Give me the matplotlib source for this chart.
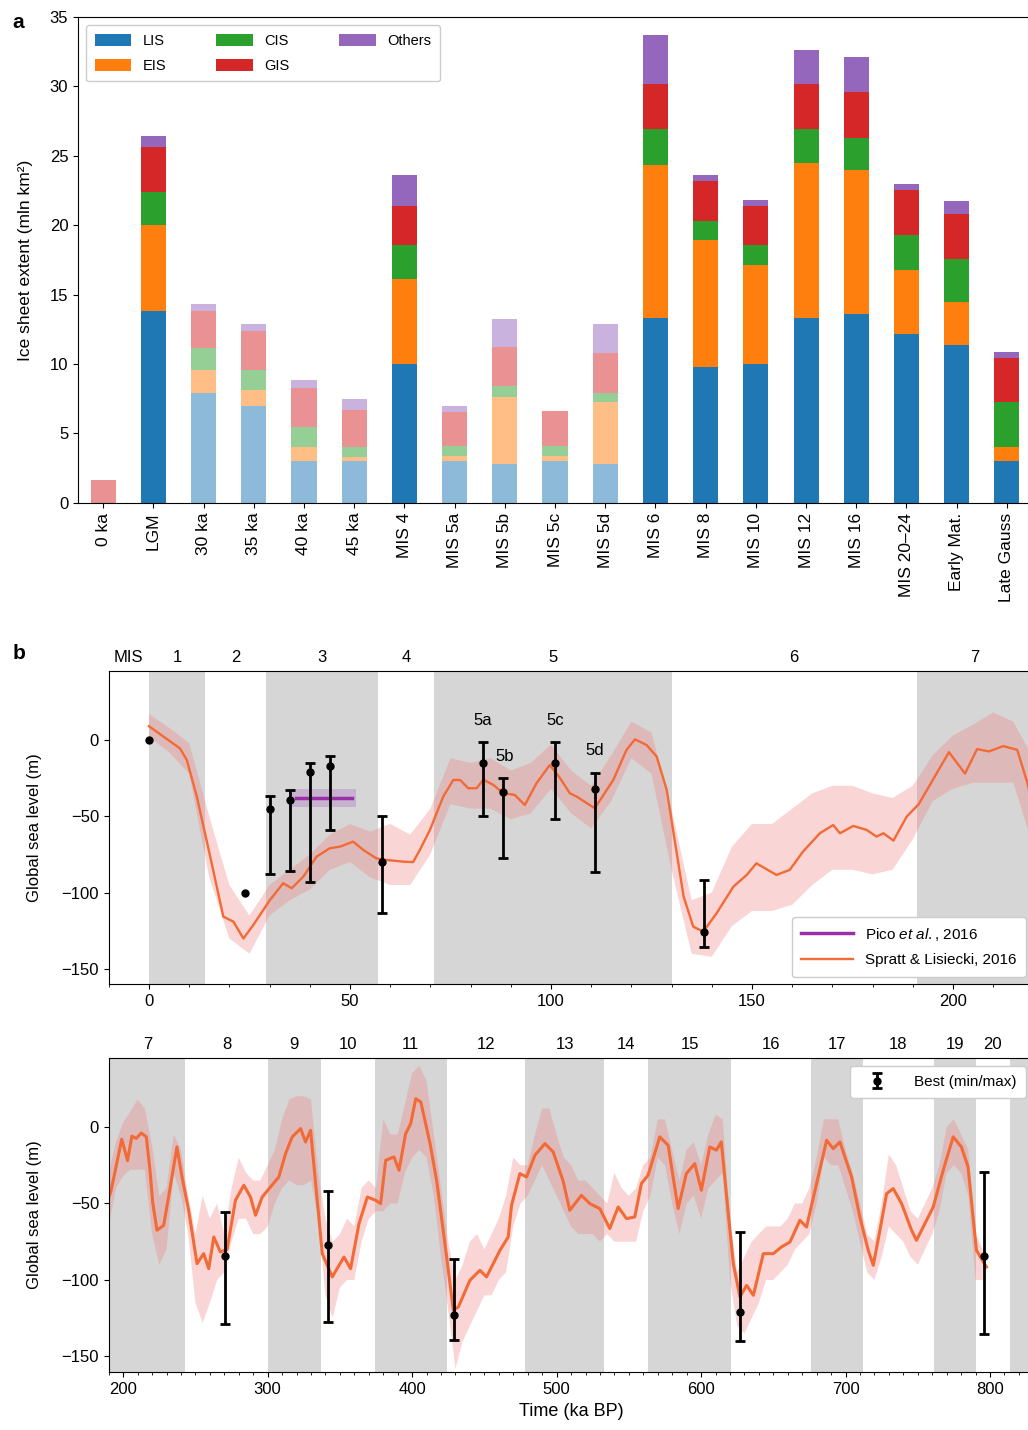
import matplotlib
matplotlib.use("Agg")
import matplotlib.pyplot as plt
import numpy as np

plt.rcParams['font.family'] = ['Liberation Sans', 'DejaVu Sans']
plt.rcParams['font.size'] = 12
plt.rcParams['mathtext.fontset'] = 'custom'
plt.rcParams['mathtext.rm'] = 'Liberation Sans'
plt.rcParams['mathtext.it'] = 'Liberation Sans:italic'

# ---------------- panel a: ice sheet extent (mln km2) ----------------
periods = ['0 ka', 'LGM', '30 ka', '35 ka', '40 ka', '45 ka', 'MIS 4', 'MIS 5a',
           'MIS 5b', 'MIS 5c', 'MIS 5d', 'MIS 6', 'MIS 8', 'MIS 10', 'MIS 12',
           'MIS 16', 'MIS 20\u201324', 'Early Mat.', 'Late Gauss']
lis = [0.0, 13.8, 7.9, 7.0, 3.0, 3.0, 10.0, 3.0, 2.8, 3.0, 2.8,
       13.3, 9.8, 10.0, 13.3, 13.6, 12.2, 11.4, 3.0]
eis = [0.0, 6.2, 1.65, 1.1, 1.05, 0.3, 6.1, 0.4, 4.8, 0.4, 4.45,
       11.0, 9.1, 7.1, 11.2, 10.4, 4.6, 3.1, 1.05]
cis = [0.0, 2.4, 1.6, 1.5, 1.45, 0.7, 2.5, 0.7, 0.8, 0.7, 0.65,
       2.6, 1.4, 1.5, 2.4, 2.3, 2.5, 3.1, 3.2]
gis = [1.65, 3.2, 2.7, 2.8, 2.75, 2.7, 2.8, 2.45, 2.8, 2.55, 2.9,
       3.3, 2.9, 2.8, 3.3, 3.3, 3.2, 3.2, 3.2]
others = [0.0, 0.8, 0.45, 0.5, 0.6, 0.75, 2.2, 0.45, 2.05, 0.0, 2.05,
          3.5, 0.4, 0.4, 2.4, 2.5, 0.5, 0.95, 0.45]
faded = [True, False, True, True, True, True, False, True, True, True, True,
         False, False, False, False, False, False, False, False]

# ---------------- panel b: global sea level ----------------
# Spratt & Lisiecki (2016) stack
sl_time = [0, 7.7, 9.4, 11.9, 15.2, 18.5, 21.0, 23.5, 26.0, 30.1, 33.4, 35.5, 38.4,
           41.7, 45.0, 47.5, 50.8, 53.3, 56.6, 59.1, 63.3, 65.7, 67.4, 69.9, 73.2,
           75.7, 77.4, 79.4, 81.5, 83.2, 85.7, 88.1, 91.0, 93.5, 96.4, 99.7, 102.0,
           104.7, 106.4, 110.9, 115.5, 118.8, 120.9, 123.8, 126.3, 128.8, 130.9,
           133.0, 135.4, 137.9, 141.2, 145.4, 148.7, 151.1, 153.2, 156.1, 159.4,
           162.7, 166.9, 170.2, 171.9, 175.2, 178.5, 181.0, 182.7, 185.2, 188.5,
           191.5, 194.8, 199.0, 201.0, 203.0, 206.0, 209.0, 212.5, 216.0, 218.5,
           220.5, 223.4, 228.0, 232.6, 237.2, 240.7, 245.3, 251.1, 255.7, 259.2,
           262.7, 267.3, 271.9, 277.7, 283.5, 288.1, 291.6, 296.2, 302.0, 307.7,
           312.4, 317.0, 322.8, 326.2, 329.7, 333.2, 337.8, 344.7, 352.8, 357.4,
           363.2, 369.0, 374.7, 378.2, 381.7, 387.4, 390.9, 395.5, 399.0, 402.5,
           406.0, 412.4, 417.0, 423.9, 428.5, 432.0, 440.0, 446.9, 451.5, 460.8,
           466.5, 468.8, 474.6, 479.2, 485.0, 491.9, 497.6, 504.5, 509.1, 517.2,
           523.0, 529.9, 536.8, 542.6, 548.4, 554.1, 558.7, 563.3, 571.4, 577.2,
           584.1, 589.8, 595.6, 600.2, 606.0, 610.6, 614.0, 617.7, 622.3, 626.9,
           631.5, 636.2, 643.1, 650.0, 655.7, 661.5, 668.4, 673.0, 680.0, 686.9,
           691.5, 696.1, 704.2, 709.9, 715.7, 719.2, 723.8, 728.4, 733.0, 738.8,
           745.7, 749.1, 753.7, 760.7, 767.6, 774.5, 780.2, 784.8, 790.6, 797.5]
sl_value = [9, -5.5, -13, -37, -76, -115.7, -119, -130, -121, -104.8, -93.8, -97.1,
            -89.5, -76.4, -70.9, -69.9, -66.6, -72, -77.6, -78.6, -79.7, -80, -72,
            -58.9, -37.1, -26.2, -26.2, -31.6, -31.6, -26, -29.5, -34.9, -36, -42.6,
            -28.4, -16.4, -24, -34.9, -37.1, -44.7, -26.2, -6.5, 0.4, -3.3, -10.9,
            -32.7, -67.7, -102.6, -122.3, -125.5, -113.5, -96, -88.4, -80.8, -84,
            -88.4, -85.1, -73.1, -61.1, -55.7, -61.1, -56.3, -58.9, -63.3, -61.1,
            -65.9, -50.2, -42, -27, -8, -15, -22, -6, -7.5, -4, -6.5, -28,
            -50, -67.5, -64.3, -39.2, -13.1, -32.7, -54.5, -89.3, -82.8, -92.6,
            -71.9, -81.7, -80, -47.9, -38.1, -45.8, -57.7, -45.8, -39.2, -32.7,
            -17.4, -6.5, -1.1, -9.8, -2.2, -37, -82.8, -98, -85, -92.6,
            -63.2, -45.8, -47.9, -50.1, -21.8, -19.6, -28.3, -4.4, 2.2, 18.5,
            16.3, -10.9, -35.3, -85, -119.8, -117.6, -100.2, -93.7, -98, -80.6,
            -71.9, -51.2, -30.5, -32.7, -18.5, -10.9, -16.3, -35.3, -54.5, -44.7,
            -50.1, -53.4, -66.4, -52.3, -59.9, -58.8, -37, -31.6, -6.5, -12,
            -53.4, -30.5, -24, -41.4, -13.1, -15.2, -9.8, -45.8, -89.3, -111,
            -103.5, -110, -82.8, -82.8, -78.4, -75.2, -61, -65.4, -37, -8.7,
            -14.2, -9.8, -32.7, -58.8, -80.6, -90.4, -67.5, -43.6, -40.3, -50.1,
            -67.5, -74.1, -65.4, -52.3, -28.3, -6.5, -13.1, -26.1, -80.6, -91.5]

band_time = list(range(0, 800, 5))
band_hi = [17, 8, -2, -50, -95, -115, -95, -85, -75, -62, -55, -60, -55, -62, -45,
           -12, -15, -12, -20, -15, -3, -20, -30, -10, 12, 5, -45, -105, -100, -70,
           -55, -55, -45, -35, -30, -30, -35, -38, -30, -10, 3, 10, 18, 12, -12,
           -45, -40, -5, -15, -45, -70, -45, -60, -50, -70, -40, -20, -30, -35, -35,
           -25, -15, 5, 18, 20, 20, 18, -30, -60, -75, -70, -60, -65, -40, -35,
           -40, 5, -5, -5, 15, 35, 40, 30, -5, -40, -75, -100, -90, -75, -70,
           -80, -70, -60, -45, -20, -25, -25, -5, 12, 12, -5, -20, -25, -35, -35,
           -40, -45, -50, -30, -40, -45, -40, -25, -20, 5, 5, -15, -35, -15, -10,
           -25, -5, 8, 5, -60, -95, -85, -75, -70, -65, -65, -65, -60, -50, -50,
           -40, -20, 5, 5, 5, -15, -30, -50, -70, -75, -50, -18, -25, -40, -55,
           -60, -50, -40, -25, 0, 5, -5, -15, -70, -80]
band_lo = [2, -8, -22, -90, -130, -140, -115, -105, -98, -85, -80, -90, -95, -95, -75,
           -42, -45, -45, -52, -48, -32, -48, -58, -40, -12, -22, -85, -140, -142, -122,
           -112, -112, -108, -95, -85, -85, -88, -85, -65, -40, -32, -28, -28, -28, -70,
           -90, -80, -30, -45, -70, -115, -128, -115, -100, -95, -75, -60, -60, -70, -70,
           -65, -50, -40, -35, -38, -38, -35, -60, -110, -125, -105, -100, -100, -75, -60,
           -55, -55, -50, -50, -30, -20, -15, -20, -45, -85, -120, -158, -140, -130, -120,
           -110, -110, -100, -95, -65, -50, -45, -35, -25, -35, -45, -55, -65, -70, -70,
           -70, -75, -70, -75, -75, -75, -75, -55, -45, -20, -25, -50, -70, -50, -45,
           -60, -40, -35, -30, -100, -130, -135, -125, -115, -100, -100, -95, -90, -80, -75,
           -70, -50, -20, -25, -25, -40, -55, -75, -95, -100, -85, -65, -70, -75, -85,
           -90, -80, -70, -55, -30, -25, -30, -45, -100, -100]

# best estimates with min/max (points without a range are drawn as plain dots)
best_time = [0, 24, 30, 35, 40, 45, 58, 83, 88, 101, 111, 138,
             270.6, 342, 429.3, 627, 796]
best_value = [0, -100, -45, -39, -21, -17, -80, -15, -34, -15, -32, -125.5,
              -84.5, -77, -122.7, -121, -84.3]
best_max = [0, -100, -36.5, -32.7, -15.3, -10.5, -49.6, -1.1, -24.7, -1.1, -21.4, -92,
            -55.6, -41.8, -86.5, -68.6, -29.4]
best_min = [0, -100, -88, -85.6, -92.8, -59, -113, -49.6, -77, -52, -86.4, -135.3,
            -129, -127.5, -139.4, -140, -135]

# Pico et al. 2016
pico_time = [36.5, 50.5]
pico_value = -38
pico_min, pico_max = -44, -32

# MIS boundaries (ka); stage n spans mis_bounds[n-1]..mis_bounds[n]
mis_bounds = [0, 14, 29, 57, 71, 130, 191, 243, 300, 337, 374, 424, 478, 533,
              563, 621, 676, 712, 761, 790, 814, 866]
sub_stages = ['5a', '5b', '5c', '5d']
sub_pos = [(83, 13), (88.5, -11), (101, 13), (111, -7)]

# ---------------- figure ----------------
fig = plt.figure(figsize=(10.28, 14.3), dpi=100)

colors = ['#1f77b4', '#ff7f0e', '#2ca02c', '#d62728', '#9467bd']
names = ['LIS', 'EIS', 'CIS', 'GIS', 'Others']
series = [lis, eis, cis, gis, others]

ax = fig.add_axes([0.0759, 0.6483, 0.928, 0.3399])
x = np.arange(len(periods))
bottom = np.zeros(len(periods))
for name, vals, col in zip(names, series, colors):
    vals = np.array(vals)
    for i in range(len(periods)):
        ax.bar(x[i], vals[i], 0.5, bottom=bottom[i], color=col,
               alpha=0.5 if faded[i] else 1.0, linewidth=0)
    ax.bar([0], [0], 0.5, color=col, label=name)
    bottom += vals
ax.set_xlim(-0.5, len(periods) - 0.5)
ax.set_ylim(0, 35)
ax.set_xticks(x)
ax.set_xticklabels(periods, rotation=90, fontsize=12.5)
ax.set_yticks(range(0, 36, 5))
ax.set_ylabel('Ice sheet extent (mln km\u00b2)', fontsize=12.5, labelpad=12)
ax.legend(loc='upper left', ncol=3, fontsize=10.5, handlelength=2.5,
          handleheight=0.9, labelspacing=0.75, columnspacing=3.4,
          borderpad=0.6, borderaxespad=0.55, fancybox=True, framealpha=1)
fig.text(0.012, 0.984, 'a', fontsize=15, fontweight='bold', va='center')


def sea_panel(pos, xlim, lw):
    a = fig.add_axes(pos)
    a.set_xlim(*xlim)
    a.set_ylim(-160, 45)
    for n in range(1, len(mis_bounds)):
        lo, hi = mis_bounds[n - 1], mis_bounds[n]
        if n % 2 == 1:
            a.axvspan(lo, hi, color='#d6d6d6', lw=0, zorder=0)
        vlo, vhi = max(lo, xlim[0]), min(hi, xlim[1])
        if n <= 20 and vhi - vlo > 5:
            a.text((vlo + vhi) / 2, 1.02, str(n), transform=a.get_xaxis_transform(),
                   ha='center', va='bottom', fontsize=12)
    a.fill_between(band_time, band_lo, band_hi, color='#f08080', alpha=0.33,
                   lw=0, zorder=1)
    a.plot(sl_time, sl_value, color='#f26a35', lw=lw, zorder=2,
           label='Spratt & Lisiecki, 2016')
    bt = np.array(best_time)
    bv = np.array(best_value)
    bmin = np.array(best_min)
    bmax = np.array(best_max)
    rng = bmax > bmin
    a.errorbar(bt[rng], bv[rng], yerr=[bv[rng] - bmin[rng], bmax[rng] - bv[rng]],
               fmt='o', color='black', ms=5, elinewidth=2, capsize=3.5,
               capthick=2, zorder=4, label='Best (min/max)')
    a.plot(bt[~rng], bv[~rng], 'o', color='black', ms=5, zorder=4)
    a.set_yticks([-150, -100, -50, 0])
    a.set_ylabel('Global sea level (m)', labelpad=14)
    return a


axb = sea_panel([0.1058, 0.3117, 0.8994, 0.2189], (-10, 220), 1.7)
axb.fill_between([35.5, 51.5], pico_min, pico_max, color='#b07cc6', alpha=0.4,
                 lw=0, zorder=3)
axb.plot(pico_time, [pico_value, pico_value], color='#9a2fa8', lw=2.5, zorder=3,
         label='Pico $\\it{et\\ al.}$, 2016')
for s, (tx, ty) in zip(sub_stages, sub_pos):
    axb.text(tx, ty, s, ha='center', va='center', fontsize=12)
axb.text(-5, 1.02, 'MIS', transform=axb.get_xaxis_transform(), ha='center',
         va='bottom', fontsize=12)
axb.set_xticks([0, 50, 100, 150, 200])
axb.set_xticks(np.arange(-10, 221, 10), minor=True)
h, l = axb.get_legend_handles_labels()
keep = [l.index('Pico $\\it{et\\ al.}$, 2016'), l.index('Spratt & Lisiecki, 2016')]
axb.legend([h[i] for i in keep], [l[i] for i in keep], loc='lower right',
           fontsize=11, handlelength=3.4, labelspacing=0.7, borderpad=0.6,
           borderaxespad=0.5, framealpha=1)
fig.text(0.012, 0.543, 'b', fontsize=15, fontweight='bold', va='center')

axc = sea_panel([0.1058, 0.0407, 0.8994, 0.2194], (190, 830), 2.2)
axc.set_xticks(range(200, 801, 100))
axc.set_xticks(np.arange(190, 831, 10), minor=True)
axc.set_xlabel('Time (ka BP)', fontsize=13, labelpad=5)
h, l = axc.get_legend_handles_labels()
i = l.index('Best (min/max)')
axc.legend([h[i]], [l[i]], loc='upper right', fontsize=11, handlelength=2.4,
           handletextpad=1.2, borderpad=0.6, borderaxespad=0.5, framealpha=1)

fig.savefig('out.png', dpi=100)
